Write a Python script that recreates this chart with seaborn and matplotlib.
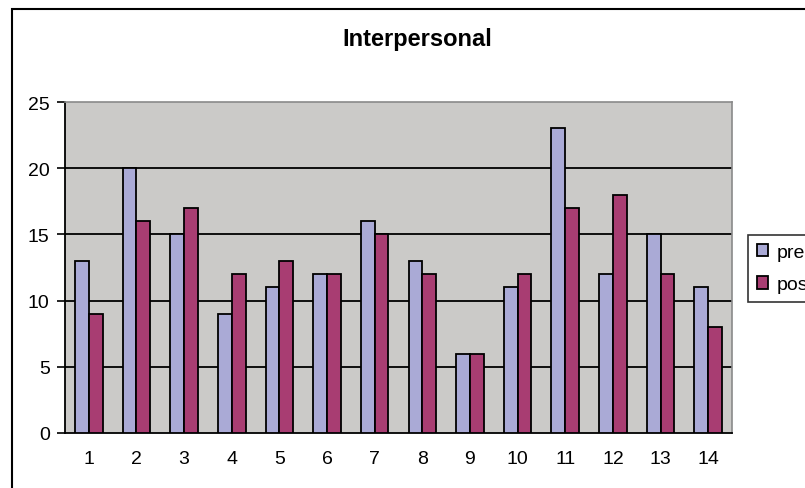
import matplotlib
matplotlib.use("Agg")
import matplotlib.pyplot as plt
from matplotlib.patches import Rectangle
import seaborn as sns
import pandas as pd
import numpy as np

# Scores per participant, before and after
participants = [str(i) for i in range(1, 15)]
pre = [13, 20, 15, 9, 11, 12, 16, 13, 6, 11, 23, 12, 15, 11]
post = [9, 16, 17, 12, 13, 12, 15, 12, 6, 12, 17, 18, 12, 8]
y_ticks = [0, 5, 10, 15, 20, 25]

df = pd.DataFrame({
    "participant": participants * 2,
    "score": pre + post,
    "phase": ["pre"] * len(pre) + ["post"] * len(post),
})

sns.set_style("white")
plt.rcParams["font.family"] = ["Liberation Sans", "DejaVu Sans"]
plt.rcParams["text.color"] = "black"
plt.rcParams["xtick.color"] = "black"
plt.rcParams["ytick.color"] = "black"

fig = plt.figure(figsize=(8.05, 4.89), dpi=100)
ax = fig.add_axes([65 / 805, 1 - 434 / 489, (732 - 65) / 805, (434 - 103) / 489])
ax.set_facecolor("#CBCAC8")

sns.barplot(
    data=df, x="participant", y="score", hue="phase",
    order=participants, hue_order=["pre", "post"],
    palette={"pre": "#AAAAD6", "post": "#A83D72"}, saturation=1,
    width=0.58, edgecolor="black", linewidth=1.3, ax=ax, zorder=3,
)

ax.set_ylim(0, 25)
ax.set_xlim(-0.5, len(participants) - 0.5)
ax.set_yticks(y_ticks)
for v in y_ticks[1:-1]:
    ax.axhline(v, color="black", linewidth=1.3, zorder=1)

# category labels centred, tick marks between categories
ax.set_xticks(np.arange(len(participants)))
ax.set_xticklabels(participants)
ax.set_xticks(np.arange(-0.5, len(participants)), minor=True)
ax.tick_params(axis="x", which="major", length=0, pad=12, labelsize=14)
ax.tick_params(axis="x", which="minor", length=6, width=1.2, color="black", direction="out")
ax.tick_params(axis="y", length=6, width=1.2, color="black", direction="out", pad=5, labelsize=14, left=True)
ax.set_xlabel("")
ax.set_ylabel("")

for side in ["left", "bottom"]:
    ax.spines[side].set_color("black")
    ax.spines[side].set_linewidth(1.3)
for side in ["top", "right"]:
    ax.spines[side].set_visible(True)
    ax.spines[side].set_color("#8A8A8A")
    ax.spines[side].set_linewidth(1.2)

leg = ax.legend(
    loc="upper left", bbox_to_anchor=(748 / 805, 1 - 236 / 489),
    bbox_transform=fig.transFigure, borderaxespad=0, frameon=True, fancybox=False,
    edgecolor="black", fontsize=14, handlelength=0.6, handleheight=0.6,
    handletextpad=0.45, labelspacing=0.8, borderpad=0.45, title=None,
)
leg.get_frame().set_linewidth(1.2)

fig.text(417 / 805, 1 - 46 / 489, "Interpersonal", ha="center", va="baseline",
         fontsize=17, fontweight="bold")

# chart-area border
fig.patches.append(Rectangle((12 / 805, -0.1), 1.2, 1 - 10 / 489 + 0.1,
                             transform=fig.transFigure, fill=False,
                             edgecolor="black", linewidth=1.5))

fig.savefig("out.png", dpi=100)
